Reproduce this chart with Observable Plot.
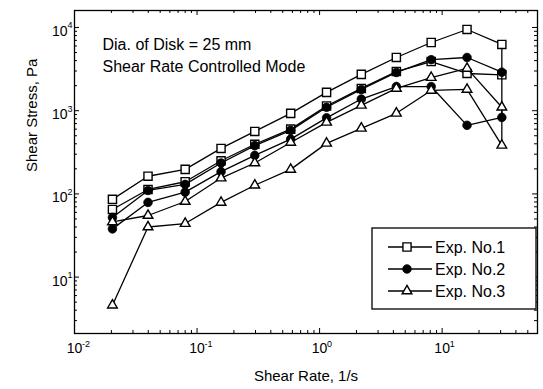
<!DOCTYPE html>
<html><head><meta charset="utf-8">
<script src="https://cdn.jsdelivr.net/npm/d3@7"></script>
<script src="https://cdn.jsdelivr.net/npm/@observablehq/plot@0.6"></script>
<style>
html,body{margin:0;padding:0;background:#fff;}
#chart svg{display:block;}
</style></head><body><div id="chart"></div>
<script>
// Shear rates (1/s), ascending sweep; the descending sweep revisits them in reverse.
const shearRate = [0.0204, 0.0398, 0.080, 0.157, 0.296, 0.581, 1.14, 2.19, 4.23, 8.14, 15.96, 30.7];
// Shear stress (Pa), indexed by shearRate
const exp1Up   = [86, 163, 197, 352, 563, 929, 1660, 2730, 4360, 6600, 9460, 6250];
const exp1Down = [65, 113, 140, 250, 395, 600, 1140, 1850, 2950, 3900, 2800, 2700];
const exp2Up   = [52, 110, 130, 235, 380, 580, 1100, 1800, 2880, 4100, 4360, 2900];
const exp2Down = [38, 79, 105, 185, 290, 455, 820, 1380, 1950, 1950, 667, 830];
const exp3Up   = [46, 55, 81, 155, 235, 415, 725, 1160, 1850, 2500, 3220, 1100];
const exp3Down = [4.6, 40, 44, 79, 127, 197, 405, 614, 930, 1750, 1800, 383];

const seriesNames = ["Exp. No.1", "Exp. No.2", "Exp. No.3"];
const annotationLines = ["Dia. of Disk = 25 mm", "Shear Rate Controlled Mode"];
const xLabel = "Shear Rate, 1/s";
const yLabel = "Shear Stress, Pa";
const xMajorTicks = [0.01, 0.1, 1, 10];
const xExponents = ["-2", "-1", "0", "1"];
const yMajorTicks = [10, 100, 1000, 10000];
const yExponents = ["1", "2", "3", "4"];
const xDomain = [0.01, 60];
const yDomain = [2.1, 16000];

function loop(up, down) {
  const a = shearRate.map((x, i) => ({x, y: up[i]}));
  const b = shearRate.map((x, i) => ({x, y: down[i]})).reverse();
  return a.concat(b);
}
const exp1 = loop(exp1Up, exp1Down);
const exp2 = loop(exp2Up, exp2Down);
const exp3 = loop(exp3Up, exp3Down);

function minorTicks(lo, hi) {
  const out = [];
  for (let e = -3; e <= 5; e++) for (let k = 2; k <= 9; k++) {
    const v = k * Math.pow(10, e);
    if (v > lo && v < hi) out.push(v);
  }
  return out;
}
const xMinor = minorTicks(xDomain[0], xDomain[1]);
const yMinor = minorTicks(yDomain[0], yDomain[1]);

const W = 543, H = 389;
const mL = 74, mR = 6, mT = 10, mB = 56;
const fw = W - mL - mR, fh = H - mT - mB;
const majLen = 5, minLen = 3;
const FONT = "Liberation Sans, Arial, Helvetica, sans-serif";

const lineStyle = {stroke: "black", strokeWidth: 1.3};
const dotStyles = [
  {symbol: "square", r: 4.6, fill: "white", stroke: "black", strokeWidth: 1.4},
  {symbol: "circle", r: 4.3, fill: "black", stroke: "black", strokeWidth: 0.8},
  {symbol: "triangle", r: 3.6, fill: "white", stroke: "black", strokeWidth: 1.4}
];

const plot = Plot.plot({
  width: W, height: H,
  marginLeft: mL, marginRight: mR, marginTop: mT, marginBottom: mB,
  style: {fontFamily: FONT, fontSize: "14px", background: "white", color: "black"},
  x: {type: "log", domain: xDomain, axis: null},
  y: {type: "log", domain: yDomain, axis: null},
  marks: [
    // inward ticks on all four sides
    Plot.tickX(xMajorTicks, {x: d => d, insetTop: fh - majLen, stroke: "black"}),
    Plot.tickX(xMajorTicks, {x: d => d, insetBottom: fh - majLen, stroke: "black"}),
    Plot.tickX(xMinor, {x: d => d, insetTop: fh - minLen, stroke: "black"}),
    Plot.tickX(xMinor, {x: d => d, insetBottom: fh - minLen, stroke: "black"}),
    Plot.tickY(yMajorTicks, {y: d => d, insetRight: fw - majLen, stroke: "black"}),
    Plot.tickY(yMajorTicks, {y: d => d, insetLeft: fw - majLen, stroke: "black"}),
    Plot.tickY(yMinor, {y: d => d, insetRight: fw - minLen, stroke: "black"}),
    Plot.tickY(yMinor, {y: d => d, insetLeft: fw - minLen, stroke: "black"}),
    Plot.frame({stroke: "black", strokeWidth: 1.3}),
    // tick labels
    Plot.text(xMajorTicks, {x: d => d, frameAnchor: "bottom", dy: 19, text: () => "10", fontSize: 14, fill: "black"}),
    Plot.text(xMajorTicks, {x: d => d, frameAnchor: "bottom", dx: 7.5, dy: 13, text: (d, i) => xExponents[i], textAnchor: "start", fontSize: 9, fill: "black"}),
    Plot.text(yMajorTicks, {y: d => d, frameAnchor: "left", dx: -7, dy: 4, text: () => "10", textAnchor: "end", fontSize: 14, fill: "black"}),
    Plot.text(yMajorTicks, {y: d => d, frameAnchor: "left", dx: -7, dy: -2, text: (d, i) => yExponents[i], textAnchor: "start", fontSize: 9, fill: "black"}),
    // axis labels
    Plot.text([xLabel], {frameAnchor: "bottom", dy: 47, text: d => d, fontSize: 15, fill: "black"}),
    Plot.text([yLabel], {frameAnchor: "left", dx: -42, rotate: -90, text: d => d, fontSize: 15, fill: "black"}),
    // annotations
    Plot.text([annotationLines[0]], {frameAnchor: "top-left", dx: 28, dy: 28, text: d => d, textAnchor: "start", fontSize: 16, fill: "black"}),
    Plot.text([annotationLines[1]], {frameAnchor: "top-left", dx: 28, dy: 50, text: d => d, textAnchor: "start", fontSize: 16, fill: "black"}),
    // data
    Plot.line(exp1, {x: "x", y: "y", ...lineStyle}),
    Plot.dot(exp1, {x: "x", y: "y", ...dotStyles[0]}),
    Plot.line(exp2, {x: "x", y: "y", ...lineStyle}),
    Plot.dot(exp2, {x: "x", y: "y", ...dotStyles[1]}),
    Plot.line(exp3, {x: "x", y: "y", ...lineStyle}),
    Plot.dot(exp3, {x: "x", y: "y", ...dotStyles[2]})
  ]
});
document.getElementById("chart").appendChild(plot);

// Legend box
const svg = d3.select(plot);
const lg = svg.append("g").attr("font-family", FONT).attr("font-size", 16).attr("text-anchor", "start");
const bx = 372, by = 228, bw = 164, bh = 81;
lg.append("rect").attr("x", bx).attr("y", by).attr("width", bw).attr("height", bh)
  .attr("fill", "white").attr("stroke", "black").attr("stroke-width", 1.3);
seriesNames.forEach((name, i) => {
  const cy = by + 19 + i * 22;
  lg.append("line").attr("x1", bx + 16).attr("x2", bx + 60).attr("y1", cy).attr("y2", cy)
    .attr("stroke", "black").attr("stroke-width", 1.3);
  const st = dotStyles[i];
  const sym = {square: d3.symbolSquare, circle: d3.symbolCircle, triangle: d3.symbolTriangle}[st.symbol];
  lg.append("path").attr("d", d3.symbol(sym, Math.PI * st.r * st.r)())
    .attr("transform", `translate(${bx + 35},${cy})`)
    .attr("fill", st.fill).attr("stroke", st.stroke).attr("stroke-width", st.strokeWidth);
  lg.append("text").attr("x", bx + 63).attr("y", cy).attr("dy", "0.35em")
    .attr("text-anchor", "start").attr("fill", "black").text(name);
});
</script></body></html>
